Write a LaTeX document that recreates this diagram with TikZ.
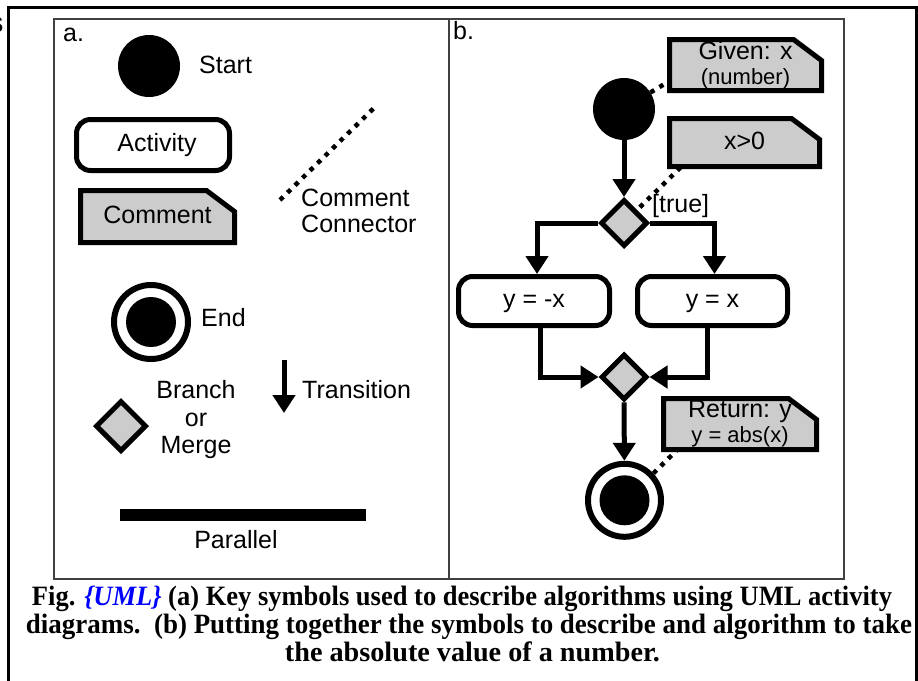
\documentclass[tikz,border=0pt]{standalone}
\usepackage{fontspec}
\usepackage{graphicx}
\setmainfont{Liberation Sans}
\newfontfamily\capfont{Liberation Serif}
\usetikzlibrary{arrows.meta,shapes.geometric,backgrounds}
\definecolor{cgray}{gray}{0.8}
\definecolor{pgray}{gray}{0.25}
\newcommand{\cmtoutline}[1]{\draw[cmtline] (#1.south west) -- (#1.north west) -- ([xshift=-28pt]#1.north east) -- ([yshift=-21pt]#1.north east) -- (#1.south east) -- cycle;}
\begin{document}
\begin{tikzpicture}[x=1pt,y=-1pt,
  lab/.style={font=\fontsize{25}{27.5}\selectfont, inner sep=0},
  startnode/.style={circle, fill=black, minimum size=62pt, inner sep=0},
  endnode/.style={circle, draw=black, fill=white, line width=6pt, minimum size=73pt, inner sep=0,
    path picture={\fill[black] (path picture bounding box.center) circle (25pt);}},
  actbox/.style={rectangle, rounded corners=14pt, draw=black, fill=white, line width=5pt, inner sep=0,
    text height=18pt, text depth=5pt, font=\fontsize{25}{27.5}\selectfont},
  cmt/.style={rectangle, inner sep=0, outer sep=0, font=\fontsize{25}{25}\selectfont, align=center},
  cmtline/.style={draw=black, fill=cgray, line width=5pt, line join=miter},
  dia/.style={diamond, draw=black, fill=cgray, line width=5pt, inner sep=0},
  arr/.style={line width=5pt, -{Triangle[width=22pt,length=18pt]}},
  dotc/.style={line width=4.5pt, dash pattern=on 4.5pt off 6pt},
  capt/.style={font=\capfont\bfseries\fontsize{28}{30}\selectfont, inner sep=0, anchor=base}
]
\useasboundingbox (0,0) rectangle (918,680);
% frames
\draw[line width=3pt] (8.3,690) -- (8.3,7.5) -- (916,7.5) -- (916,690);
\draw[pgray, line width=2pt] (54,18.5) rectangle (844,579.3);
\draw[pgray, line width=2pt] (449,18.5) -- (449,579.3);
\node[anchor=east, inner sep=0, font=\bfseries\fontsize{22}{24}\selectfont] (sfrag) at (3.5,25) {S};

% ---------- panel a ----------
\node[lab, anchor=base west] (la) at (63,41.5) {a.};
\node[startnode] (sa) at (149,66) {};
\node[lab, anchor=base west] (lstart) at (199,73) {Start};
\node[actbox, minimum width=153pt, minimum height=51pt] (act) at (153,145) {\hspace*{8pt}Activity};
\node[cmt, minimum width=154pt, minimum height=52pt, text height=18pt, text depth=5pt] (ca) at (157.5,216.5) {Comment};
\coordinate (cc1) at (280,200);
\coordinate (cc2) at (376,106);
\draw[dotc] (cc1) -- (cc2);
\node[lab, anchor=west, align=left, font=\fontsize{25}{26.7}\selectfont] (lcc) at (301,211) {Comment\\Connector};
\node[endnode, minimum size=74pt] (ea) at (151,322) {};
\node[lab, anchor=base west] (lend) at (201,326) {End};
\coordinate (ta) at (284,360);
\coordinate (tb) at (284,413);
\draw[arr] (ta) -- (tb);
\node[lab, anchor=base west] (ltr) at (302,398.3) {Transition};
\node[dia, minimum width=51pt, minimum height=51pt] (da) at (121,426) {};
\node[lab, align=center] (lbr) at (196,420) {Branch\\or\\Merge};
\node[rectangle, fill=black, minimum width=246pt, minimum height=12pt, inner sep=0] (par) at (243,515) {};
\node[lab, anchor=base] (lpar) at (236,548.3) {Parallel};

% ---------- panel b ----------
\node[lab, anchor=base west] (lb) at (453,39) {b.};
\node[startnode] (s2) at (624,109) {};
\node[cmt, minimum width=152pt, minimum height=51pt] (c1) at (745.5,65) {Given: x\\{\fontsize{22}{25}\selectfont (number)}};
\node[cmt, minimum width=150pt, minimum height=48pt, text height=18pt, text depth=5pt] (c2) at (744.5,142.5) {x>0};
\node[dia, minimum width=47pt, minimum height=47pt] (d1) at (624,223) {};
\node[lab, anchor=base west] (ltrue) at (652,212) {[true]};
\node[actbox, minimum width=151pt, minimum height=49pt] (b1) at (534,301) {y = -x};
\node[actbox, minimum width=150pt, minimum height=49pt] (b2) at (712.5,301) {y = x};
\node[dia, minimum width=46pt, minimum height=46pt] (m) at (624,377) {};
\node[endnode] (e2) at (624.5,500.3) {};
\node[cmt, minimum width=153pt, minimum height=51pt] (c3) at (740,424) {Return: y\\{\fontsize{22}{25}\selectfont y = abs(x)}};

\begin{scope}[on background layer]
\cmtoutline{ca}
\cmtoutline{c1}
\cmtoutline{c2}
\cmtoutline{c3}
\end{scope}

\draw[arr] (s2) -- (d1);
\draw[arr] (d1.west) -| ([xshift=3pt]b1.north);
\draw[arr] (d1.east) -| ([xshift=2pt]b2.north);
\draw[arr] ([xshift=6pt]b1.south) |- (m.west);
\draw[arr] ([xshift=-5.5pt]b2.south) |- (m.east);
\draw[arr] (m) -- (e2);
\draw[dotc] (s2.32) -- ([yshift=9.5pt]c1.south west);
\draw[dotc, shorten <=4pt] (d1.45) -- ([xshift=12pt]c2.south west);
\draw[dotc] (e2.43) -- ([xshift=14pt]c3.south west);

% ---------- caption ----------
\node[capt] (cap1) at (462,605) {\resizebox{860pt}{\height}{Fig. \textcolor{blue}{\itshape\{UML\}} (a) Key symbols used to describe algorithms using UML activity}};
\node[capt] (cap2) at (469,633.3) {\resizebox{886pt}{\height}{diagrams.\ \ (b) Putting together the symbols to describe and algorithm to take}};
\node[capt] (cap3) at (472.5,661.7) {\resizebox{375pt}{\height}{the absolute value of a number.}};
\end{tikzpicture}
\end{document}
